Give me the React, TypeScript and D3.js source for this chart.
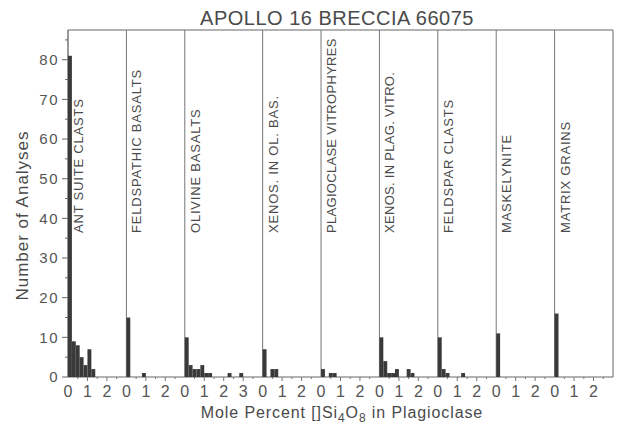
import * as d3 from 'd3';

// panel names, left to right
const panelNames = [
  'ANT SUITE CLASTS',
  'FELDSPATHIC BASALTS',
  'OLIVINE BASALTS',
  'XENOS. IN OL. BAS.',
  'PLAGIOCLASE VITROPHYRES',
  'XENOS. IN PLAG. VITRO.',
  'FELDSPAR CLASTS',
  'MASKELYNITE',
  'MATRIX GRAINS',
];
// width of each panel in mole percent units
const panelUnits = [3, 3, 4, 3, 3, 3, 3, 3, 3];
// tick labels shown in each panel
const panelTicks = [
  ['0', '1', '2'],
  ['0', '1', '2'],
  ['0', '1', '2', '3'],
  ['0', '1', '2'],
  ['0', '1', '2'],
  ['0', '1', '2'],
  ['0', '1', '2'],
  ['0', '1', '2'],
  ['0', '1', '2'],
];
// counts per 0.2 mol% bin, starting at 0
const antSuite = [81, 9, 8, 5, 3, 7, 2];
const feldBasalts = [15, 0, 0, 0, 1];
const olivineBasalts = [10, 3, 2, 2, 3, 1, 1, 0, 0, 0, 0, 1, 0, 0, 1];
const xenosOl = [7, 0, 2, 2];
const plagVitro = [2, 0, 1, 1];
const xenosPlag = [10, 4, 1, 1, 2, 0, 0, 2, 1];
const feldClasts = [10, 2, 1, 0, 0, 0, 1];
const maskelynite = [11];
const matrixGrains = [16];
const panelCounts = [antSuite, feldBasalts, olivineBasalts, xenosOl, plagVitro, xenosPlag, feldClasts, maskelynite, matrixGrains];
const binWidth = 0.2;

const yTicks = d3.range(0, 90, 5);
const yLabels = [0, 10, 20, 30, 40, 50, 60, 70, 80];

const W = 620;
const H = 429;
const left = 68;
const right = 613;
const top = 30;
const bottom = 377;

const ink = '#4a4a4a';
const font = "'Liberation Sans', Arial, sans-serif";

export default function App() {
  const totalUnits = d3.sum(panelUnits);
  const x = d3.scaleLinear().domain([0, totalUnits]).range([left, right]);
  const y = d3.scaleLinear().domain([0, 87.5]).range([bottom, top]);
  const offsets = panelUnits.map((_, i) => d3.sum(panelUnits.slice(0, i)));

  return (
    <svg width={W} height={H} style={{ position: 'absolute', left: 0, top: 0, background: '#fff' }}>
      <text x={337} y={25} textAnchor="middle" fontFamily={font} fontSize={20} fill={ink} letterSpacing={0.5}>
        APOLLO 16 BRECCIA 66075
      </text>

      {/* frame */}
      <line x1={left} x2={right} y1={top} y2={top} stroke="#666" strokeWidth={1} />
      <line x1={right} x2={right} y1={top} y2={bottom} stroke="#666" strokeWidth={1} />
      <line x1={left} x2={right} y1={bottom} y2={bottom} stroke="#666" strokeWidth={1} />
      <line x1={left} x2={left} y1={top} y2={bottom} stroke="#555" strokeWidth={1.2} />

      {/* y axis */}
      {yTicks.map((t) => (
        <line key={'yt' + t} x1={left - (t % 10 === 0 ? 6 : 3)} x2={left} y1={y(t)} y2={y(t)} stroke="#666" />
      ))}
      {yLabels.map((t) => (
        <text key={'yl' + t} x={left - 9} y={y(t)} dy="0.35em" textAnchor="end" fontFamily={font} fontSize={15} fill="#555" letterSpacing={1.5}>
          {t}
        </text>
      ))}
      <text
        transform={`translate(28,${(top + bottom) / 2 + 12}) rotate(-90)`}
        textAnchor="middle"
        fontFamily={font}
        fontSize={17}
        fill={ink}
        letterSpacing={1}
      >
        Number of Analyses
      </text>

      {/* panels */}
      {panelNames.map((name, i) => {
        const x0 = x(offsets[i]);
        return (
          <g key={name}>
            {i > 0 && <line x1={x0} x2={x0} y1={top} y2={bottom} stroke="#777" strokeWidth={1} />}
            {panelCounts[i].map((c, j) =>
              c > 0 ? (
                <rect
                  key={j}
                  x={x(offsets[i] + j * binWidth)}
                  width={x(binWidth) - x(0)}
                  y={y(c)}
                  height={bottom - y(c)}
                  fill="#3a3a3a"
                />
              ) : null
            )}
            {d3.range(1, panelUnits[i] * 2).map((k) => (
              <line
                key={'xt' + k}
                x1={x(offsets[i] + k / 2)}
                x2={x(offsets[i] + k / 2)}
                y1={bottom}
                y2={bottom + (k % 2 === 0 ? 4 : 2)}
                stroke="#777"
              />
            ))}
            {panelTicks[i].map((t, k) => (
              <text
                key={'xl' + k}
                x={x(offsets[i] + k)}
                y={bottom + 20}
                textAnchor="middle"
                fontFamily={font}
                fontSize={16}
                fill="#555"
              >
                {t}
              </text>
            ))}
            <text
              transform={`translate(${x0 + 15},233) rotate(-90)`}
              fontFamily={font}
              fontSize={13}
              fill={ink}
              letterSpacing={name.length > 20 ? 0.3 : 0.8}
            >
              {name}
            </text>
          </g>
        );
      })}

      <text x={342} y={418} textAnchor="middle" fontFamily={font} fontSize={16} fill={ink} letterSpacing={0.9}>
        Mole Percent []Si
        <tspan dy={4} fontSize={12}>4</tspan>
        <tspan dy={-4}>O</tspan>
        <tspan dy={4} fontSize={12}>8</tspan>
        <tspan dy={-4}> in Plagioclase</tspan>
      </text>
    </svg>
  );
}
